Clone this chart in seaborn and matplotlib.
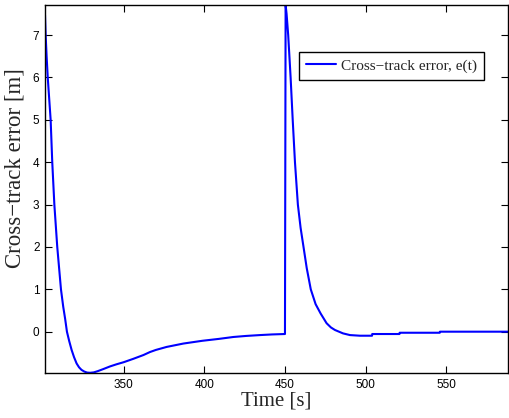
import numpy as np
import pandas as pd
import matplotlib
matplotlib.use("Agg")
import matplotlib.pyplot as plt
import seaborn as sns

# ---- data ----
time_s = [301.2, 301.6, 302.2, 302.9, 303.8, 304.7, 305.7, 307.0, 308.8, 311.1,
          312.5, 313.7, 314.8, 316.2, 317.7, 319.2, 320.8, 322.3, 323.8, 325.5,
          327.3, 329.2, 331.5, 334.0, 337.5, 341.5, 345.5, 350.0, 356.0, 362.3,
          366.3, 370.0, 376.6, 387.0, 398.7, 409.0, 418.0, 426.0, 434.5, 442.0,
          449.9,
          450.0, 450.4, 451.0, 452.0, 453.5, 454.8, 456.2, 458.0, 459.7, 461.5,
          463.5, 466.0, 469.0, 472.1, 475.8, 478.5, 481.0, 486.0, 490.3, 496.5,
          504.0, 504.1, 521.0, 521.1, 546.0, 546.1, 588.3]
cross_track = [7.47, 7.0, 6.5, 6.0, 5.5, 5.0, 4.0, 3.0, 2.0, 1.0,
               0.59, 0.3, 0.0, -0.22, -0.43, -0.6, -0.75, -0.84, -0.9, -0.94,
               -0.965, -0.97, -0.96, -0.93, -0.88, -0.82, -0.77, -0.72, -0.64, -0.55,
               -0.48, -0.43, -0.36, -0.28, -0.215, -0.17, -0.125, -0.10, -0.08, -0.065,
               -0.055,
               -0.055, 7.71, 7.5, 7.0, 6.0, 5.0, 4.0, 3.0, 2.45, 2.0,
               1.5, 1.0, 0.65, 0.43, 0.2, 0.1, 0.04, -0.04, -0.08, -0.095,
               -0.095, -0.055, -0.055, -0.025, -0.025, 0.0, 0.0]
x_ticks = [350, 400, 450, 500, 550]
y_ticks = [0, 1, 2, 3, 4, 5, 6, 7]
series_label = "Cross\u2212track error, e(t)"
x_label = "Time [s]"
y_label = "Cross\u2212track error [m]"

df = pd.DataFrame({"t": time_s, "e": cross_track})

sns.set_style("ticks")
plt.rcParams["font.family"] = ["Liberation Sans", "DejaVu Sans"]

fig = plt.figure(figsize=(5.09, 4.18), dpi=100)
ax = fig.add_axes([45 / 509, 1 - 373 / 418, 463 / 509, 368 / 418])

sns.lineplot(data=df, x="t", y="e", ax=ax, color="#0000ff", linewidth=1.5,
             label=series_label, sort=False, estimator=None)

ax.set_xlim(min(time_s), max(time_s))
ax.set_ylim(-0.975, max(cross_track))
ax.set_xticks(x_ticks)
ax.set_yticks(y_ticks)
ax.tick_params(direction="in", length=5, width=0.8, top=True, right=True,
               labelsize=8.5, colors="black", pad=4)
for sp in ax.spines.values():
    sp.set_visible(True)
    sp.set_color("black")
    sp.set_linewidth(1.0)

ax.set_xlabel(x_label, family=["Liberation Serif", "DejaVu Serif"], fontsize=15, labelpad=1)
ax.set_ylabel(y_label, family=["Liberation Serif", "DejaVu Serif"], fontsize=16.5)
ax.yaxis.set_label_coords(-0.042, 0.557)

leg = ax.legend(loc="upper right", bbox_to_anchor=(0.948, 0.872), borderaxespad=0,
                frameon=True, fancybox=False, framealpha=1, edgecolor="black",
                prop={"family": ["Liberation Serif", "DejaVu Serif"], "size": 11},
                handlelength=2.0, handletextpad=0.3, borderpad=0.45)
leg.get_frame().set_linewidth(1.0)

fig.savefig("out.png", dpi=100)
